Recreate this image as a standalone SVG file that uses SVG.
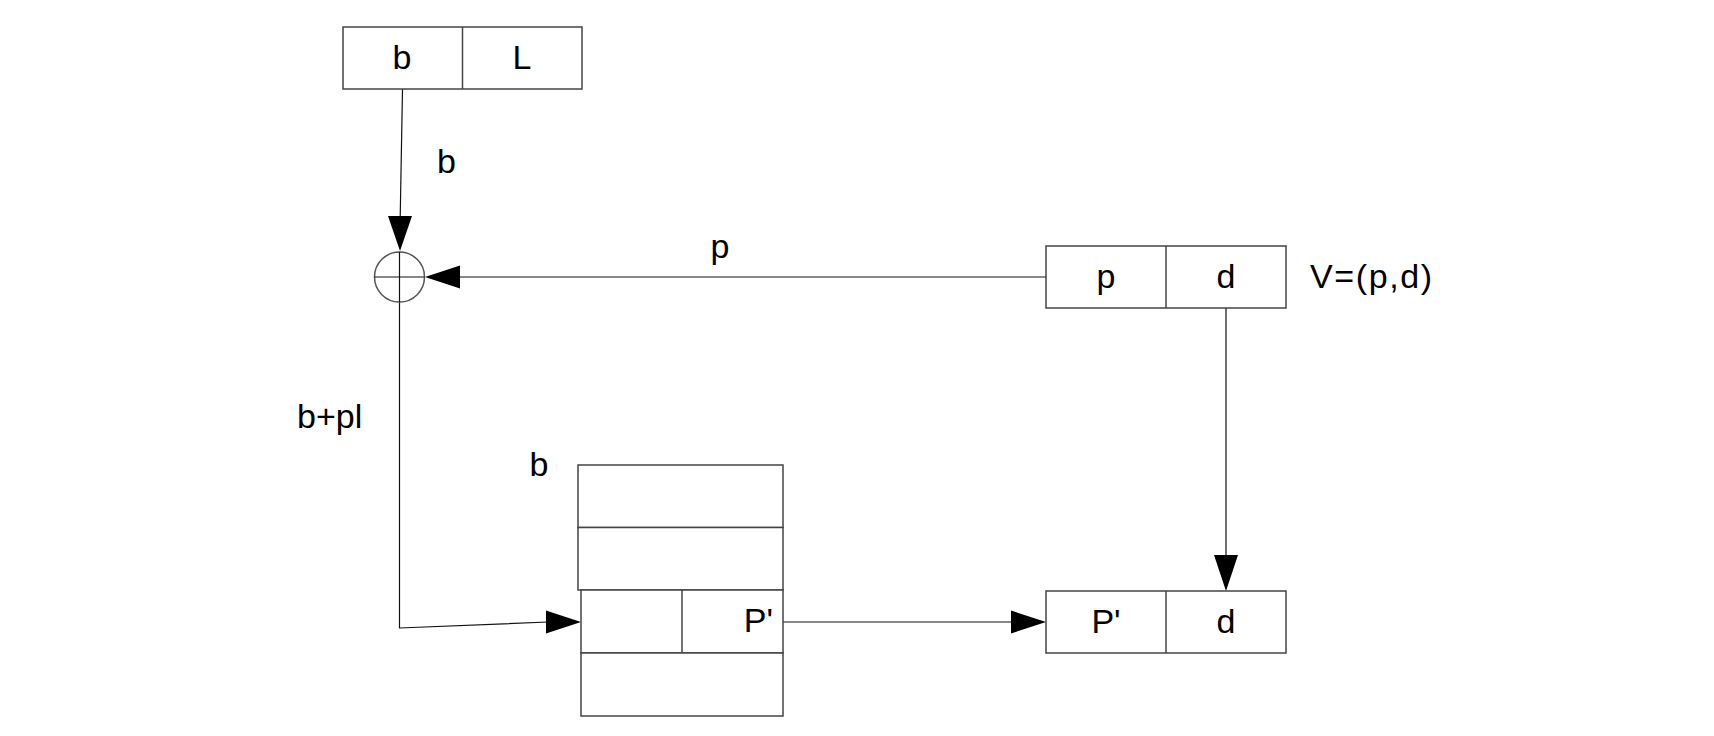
<svg xmlns="http://www.w3.org/2000/svg" width="1714" height="736" viewBox="0 0 1714 736">
<style>
.box{fill:#fff;stroke:#444;stroke-width:1.5}
.div{stroke:#444;stroke-width:1.5;fill:none}
.ln{stroke:#111;stroke-width:1.2;fill:none}
.ah{fill:#000;stroke:none}
.t{font-family:"Liberation Sans",Arial,sans-serif;font-size:34px;fill:#000}
.m{text-anchor:middle}
</style>
<rect width="1714" height="736" fill="#fff"/>
<g id="connectors">
<line class="ln" x1="402.5" y1="89" x2="400.2" y2="218"/>
<polygon class="ah" points="400,251 388,216 412,216"/>
<line class="ln" x1="1046" y1="277" x2="459" y2="277"/>
<polygon class="ah" points="425,277 460,265.5 460,288.5"/>
<polyline class="ln" points="399.5,302 399.5,628 548,622"/>
<polygon class="ah" points="581,622 546,610.5 546,633.5"/>
<line class="ln" x1="783" y1="622" x2="1013" y2="622"/>
<polygon class="ah" points="1046,622 1011,610.5 1011,633.5"/>
<line class="ln" x1="1226" y1="308" x2="1226" y2="557"/>
<polygon class="ah" points="1226,591 1214,555 1238,555"/>
</g>
<g id="node-bL">
<rect class="box" x="343" y="27" width="239" height="62"/>
<line class="div" x1="462.5" y1="27" x2="462.5" y2="89"/>
<text class="t m" x="402" y="69">b</text>
<text class="t m" x="522" y="69">L</text>
</g>
<g id="node-adder">
<circle cx="399.5" cy="277" r="25" fill="#fff" stroke="#555" stroke-width="1.5"/>
<line class="ln" x1="374.5" y1="277" x2="424.5" y2="277" stroke="#555"/>
<line class="ln" x1="399.5" y1="252" x2="399.5" y2="302"/>
</g>
<g id="node-pd">
<rect class="box" x="1046" y="246" width="240" height="62"/>
<line class="div" x1="1166" y1="246" x2="1166" y2="308"/>
<text class="t m" x="1106" y="288">p</text>
<text class="t m" x="1226" y="288">d</text>
<text class="t" x="1310" y="288" textLength="122">V=(p,d)</text>
</g>
<g id="node-table">
<rect class="box" x="578" y="465" width="205" height="62.5"/>
<rect class="box" x="578" y="527.5" width="205" height="62.5"/>
<rect class="box" x="581" y="590" width="202" height="63"/>
<line class="div" x1="682" y1="590" x2="682" y2="653"/>
<rect class="box" x="581" y="653" width="202" height="63"/>
<text class="t" x="773" y="632" text-anchor="end">P'</text>
</g>
<g id="node-Pd">
<rect class="box" x="1046" y="591" width="240" height="62"/>
<line class="div" x1="1166" y1="591" x2="1166" y2="653"/>
<text class="t m" x="1106" y="633">P'</text>
<text class="t m" x="1226" y="633">d</text>
</g>
<g id="labels">
<text class="t m" x="446.5" y="173">b</text>
<text class="t m" x="720" y="258">p</text>
<text class="t" x="297" y="428">b+pl</text>
<text class="t m" x="539" y="476">b</text>
</g>
</svg>
